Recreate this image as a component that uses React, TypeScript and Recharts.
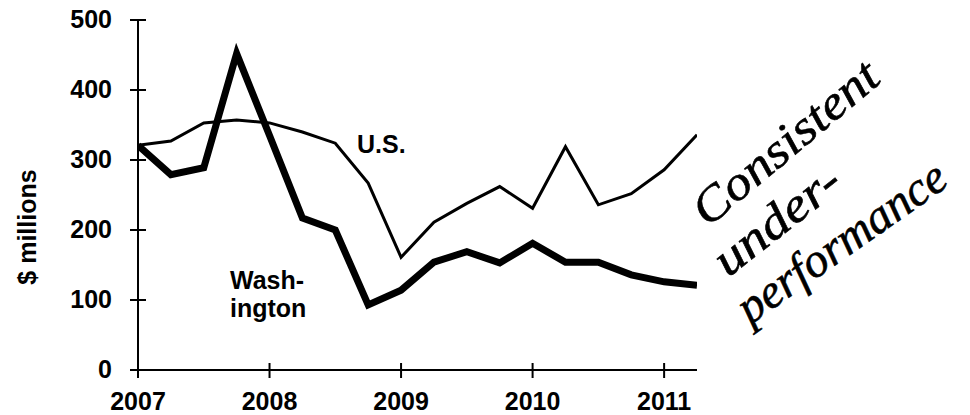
import React from "react";
import { LineChart, Line, XAxis, YAxis } from "recharts";

const quarters = [
  2007, 2007.25, 2007.5, 2007.75, 2008, 2008.25, 2008.5, 2008.75, 2009,
  2009.25, 2009.5, 2009.75, 2010, 2010.25, 2010.5, 2010.75, 2011, 2011.25,
];
const usValues = [321, 327, 353, 357, 353, 340, 324, 267, 161, 211, 238, 262, 231, 319, 236, 252, 286, 336];
const washingtonValues = [321, 279, 289, 452, 335, 217, 200, 93, 114, 154, 169, 153, 181, 154, 154, 136, 126, 121];
const yearTicks = [2007, 2008, 2009, 2010, 2011];
const valueTicks = [0, 100, 200, 300, 400, 500];

const data = quarters.map((t, i) => ({ t, us: usValues[i], wa: washingtonValues[i] }));

const FONT = "'Liberation Sans', Arial, sans-serif";
const HAND = "'Liberation Serif', 'DejaVu Serif', serif";

const YTick = (props: any) => {
  const { x, y, payload } = props;
  const axisX = x + 26;
  return (
    <g>
      <line x1={axisX - 8} x2={axisX + 8} y1={y} y2={y} stroke="#000" strokeWidth={2} />
      <text x={x} y={y + 8} textAnchor="end" fontFamily={FONT} fontWeight="bold" fontSize={25} fill="#000">
        {payload.value}
      </text>
    </g>
  );
};

const XTick = (props: any) => {
  const { x, y, payload } = props;
  const axisY = y - 20;
  return (
    <g>
      <line x1={x} x2={x} y1={axisY - 7} y2={axisY + 8} stroke="#000" strokeWidth={2} />
      <text x={x} y={y + 20} textAnchor="middle" fontFamily={FONT} fontWeight="bold" fontSize={25} fill="#000">
        {payload.value}
      </text>
    </g>
  );
};

export default function App() {
  return (
    <div style={{ position: "absolute", left: 0, top: 0, width: 970, height: 415, background: "#fff" }}>
      <LineChart width={970} height={415} data={data} margin={{ top: 20, right: 273, bottom: 0, left: 0 }}>
        <XAxis
          dataKey="t"
          type="number"
          domain={[2007, 2011.25]}
          ticks={yearTicks}
          allowDataOverflow
          height={45}
          tickSize={8}
          tickMargin={12}
          tickLine={false}
          axisLine={{ stroke: "#000", strokeWidth: 2 }}
          tick={<XTick />}
          interval={0}
        />
        <YAxis
          type="number"
          domain={[0, 500]}
          ticks={valueTicks}
          width={138}
          tickSize={8}
          tickMargin={18}
          tickLine={false}
          axisLine={{ stroke: "#000", strokeWidth: 2 }}
          tick={<YTick />}
          interval={0}
        />
        <Line dataKey="us" stroke="#000" strokeWidth={3} dot={false} isAnimationActive={false} type="linear" />
        <Line dataKey="wa" stroke="#000" strokeWidth={7} dot={false} isAnimationActive={false} type="linear" />
      </LineChart>
      <svg width={970} height={415} style={{ position: "absolute", left: 0, top: 0, pointerEvents: "none" }}>
        <text
          transform="translate(36,227) rotate(-90)"
          textAnchor="middle"
          fontFamily={FONT}
          fontWeight="bold"
          fontSize={25}
          fill="#000"
        >
          $ millions
        </text>
        <text x={357} y={153} fontFamily={FONT} fontWeight="bold" fontSize={25} fill="#000">U.S.</text>
        <text x={230} y={289} fontFamily={FONT} fontWeight="bold" fontSize={25} fill="#000">Wash-</text>
        <text x={230} y={317} fontFamily={FONT} fontWeight="bold" fontSize={25} fill="#000">ington</text>
        <g fontFamily={HAND} fontStyle="italic" fontSize={48} fill="#000" stroke="#000" strokeWidth={0.6}>
          <text transform="translate(708,228) rotate(-40)" textLength={228} lengthAdjust="spacingAndGlyphs">Consistent</text>
          <text transform="translate(728,278) rotate(-38)" textLength={148} lengthAdjust="spacingAndGlyphs">under-</text>
          <text transform="translate(750,325) rotate(-35)" textLength={245} lengthAdjust="spacingAndGlyphs">performance</text>
        </g>
      </svg>
    </div>
  );
}
